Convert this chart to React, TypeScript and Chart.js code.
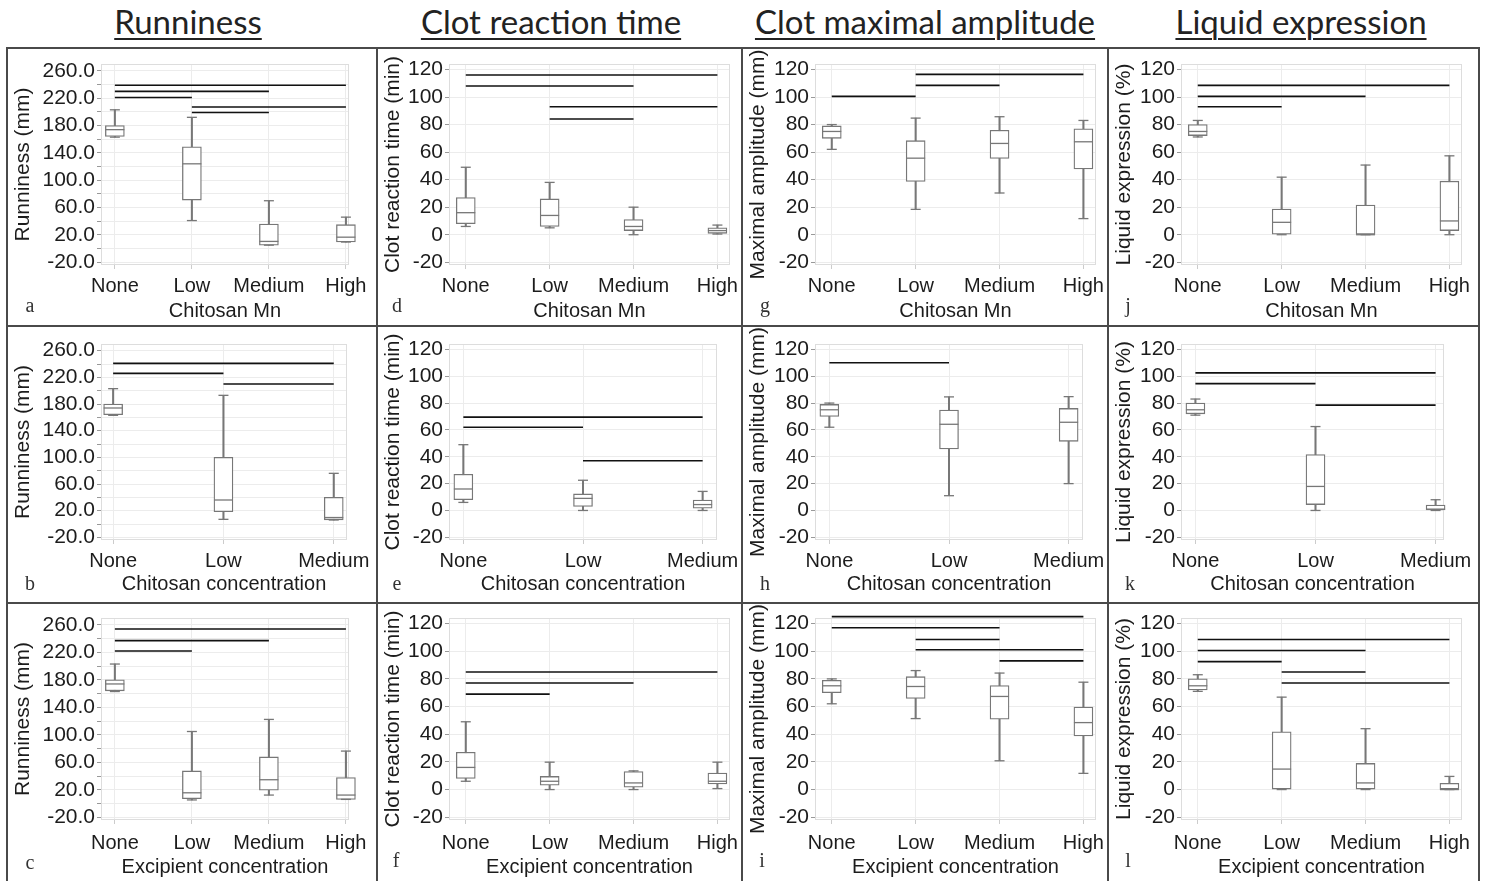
import React, { useEffect, useRef } from 'react';
import { Chart, registerables } from 'chart.js';
Chart.register(...registerables);

// ---------- categories ----------
const catMn = ['None', 'Low', 'Medium', 'High'];
const catConc = ['None', 'Low', 'Medium'];
const catExc = ['None', 'Low', 'Medium', 'High'];

// ---------- y ticks ----------
const runGrid = [-20, 0, 20, 40, 60, 80, 100, 120, 140, 160, 180, 200, 220, 240, 260];
const runLabels = [-20, 20, 60, 100, 140, 180, 220, 260];
const pctGrid = [-20, 0, 20, 40, 60, 80, 100, 120];
const pctLabels = [-20, 0, 20, 40, 60, 80, 100, 120];

// ---------- box stats: [min, q1, median, q3, max] ----------
const runNone = [163, 164, 174, 180, 203];
const crtNone = [6, 8, 16, 27, 49];
const ampNone = [62, 70, 75, 79, 80];
const liqNone = [71, 72, 75, 80, 83];

const runMn = [runNone, [41, 71, 124, 149, 192], [5, 5, 10.5, 36, 70], [9.6, 9.6, 16.7, 35, 46]];
const runConc = [runNone, [7, 18.6, 36, 100, 193], [6, 6.3, 9.7, 40, 76]];
const runExc = [runNone, [5.2, 7, 15.6, 47.4, 104.8], [12.3, 19.4, 34.6, 67.8, 122.4], [6, 6, 12.3, 37.9, 76.3]];

const crtMn = [crtNone, [5, 6, 14, 26, 38], [0, 3, 6, 11, 20], [0.5, 1, 3, 5, 7]];
const crtConc = [crtNone, [0, 3, 9, 12.3, 22.5], [0, 1.7, 4.4, 7.8, 14.2]];
const crtExc = [crtNone, [0, 3.1, 6, 9.5, 19.8], [0, 1.7, 4.8, 13, 13.5], [0.7, 4, 6, 12, 19.8]];

const ampMn = [ampNone, [18.4, 38.7, 55.6, 68.3, 84.7], [30.3, 55.4, 66.3, 75.9, 85.7], [11.7, 47.7, 67.5, 77, 83]];
const ampConc = [ampNone, [11, 45.8, 64.2, 74.8, 84.6], [20, 51.5, 65.7, 76, 84.8]];
const ampExc = [ampNone, [51.3, 65.9, 74.5, 81.6, 86], [20.8, 50.8, 67.3, 75.2, 84.2], [11.7, 38.7, 48.4, 59.7, 77.6]];

const liqMn = [liqNone, [0, 0, 9, 18.6, 41.8], [0, 0, 0, 21.5, 50.6], [0, 3, 10, 38.9, 57.3]];
const liqConc = [liqNone, [0, 4.4, 17.9, 41.7, 62.5], [0, 0, 1, 4, 8]];
const liqExc = [liqNone, [0, 0, 14.8, 41.8, 66.8], [0, 0, 4.8, 18.9, 44], [0, 0, 0, 4.5, 9.5]];

// ---------- significance bars: [fromCategory, toCategory, yValue] ----------
const runMnSig = [[0, 3, 239], [0, 2, 230], [0, 1, 221], [1, 3, 207], [1, 2, 199]];
const runConcSig = [[0, 2, 241], [0, 1, 226], [1, 2, 210]];
const runExcSig = [[0, 3, 254], [0, 2, 237], [0, 1, 222]];
const crtMnSig = [[0, 3, 116], [0, 2, 108], [1, 3, 93], [1, 2, 84]];
const crtConcSig = [[0, 2, 69.5], [0, 1, 62], [1, 2, 37]];
const crtExcSig = [[0, 3, 85], [0, 2, 77], [0, 1, 69]];
const ampMnSig = [[0, 1, 100.5], [1, 3, 116.5], [1, 2, 108.5]];
const ampConcSig = [[0, 1, 110]];
const ampExcSig = [[0, 3, 125], [0, 2, 117], [1, 2, 108.5], [1, 3, 101], [2, 3, 93]];
const liqMnSig = [[0, 3, 108.5], [0, 2, 100.5], [0, 1, 93]];
const liqConcSig = [[0, 2, 102.5], [0, 1, 94.5], [1, 2, 78.5]];
const liqExcSig = [[0, 3, 108.5], [0, 2, 100.5], [0, 1, 92.5], [1, 2, 85], [1, 3, 77]];

const colTitles = ['Runniness', 'Clot reaction time', 'Clot maximal amplitude', 'Liquid expression'];
const yTitles = ['Runniness (mm)', 'Clot reaction time (min)', 'Maximal amplitude (mm)', 'Liquid expression (%)'];
const xTitles = ['Chitosan Mn', 'Chitosan concentration', 'Excipient concentration'];
const letters = [['a', 'd', 'g', 'j'], ['b', 'e', 'h', 'k'], ['c', 'f', 'i', 'l']];

const panelData = [
  [
    { cats: catMn, boxes: runMn, sig: runMnSig },
    { cats: catMn, boxes: crtMn, sig: crtMnSig },
    { cats: catMn, boxes: ampMn, sig: ampMnSig },
    { cats: catMn, boxes: liqMn, sig: liqMnSig },
  ],
  [
    { cats: catConc, boxes: runConc, sig: runConcSig },
    { cats: catConc, boxes: crtConc, sig: crtConcSig },
    { cats: catConc, boxes: ampConc, sig: ampConcSig },
    { cats: catConc, boxes: liqConc, sig: liqConcSig },
  ],
  [
    { cats: catExc, boxes: runExc, sig: runExcSig },
    { cats: catExc, boxes: crtExc, sig: crtExcSig },
    { cats: catExc, boxes: ampExc, sig: ampExcSig },
    { cats: catExc, boxes: liqExc, sig: liqExcSig },
  ],
];

// ---------- layout ----------
const colX = [7, 377, 742, 1108, 1479];
const rowY = [48, 326, 603, 881];
const chartLeft = [93, 71, 72, 72];
const padRight4 = [27, 11, 11, 16];
const padRight3 = [29, 24, 24, 34];
const xRange4 = [[-0.18, 3.04], [-0.2, 3.15], [-0.2, 3.15], [-0.2, 3.15]];
const xRange3 = [[-0.11, 2.12], [-0.12, 2.12], [-0.12, 2.12], [-0.12, 2.07]];
const rowGeom = [
  { top: 15, xH: 58, padB: 2, tickPad: 5 },
  { top: 17, xH: 56, padB: 6, tickPad: 5 },
  { top: 14, xH: 59, padB: 1, tickPad: 7 },
];

const FONT = '"Liberation Sans", Arial, Helvetica, sans-serif';
const TXT = '#1c1c1c';
const GRAY = '#777777';

const framePlugin = {
  id: 'frame',
  beforeDatasetsDraw(chart: any) {
    const { ctx, chartArea } = chart;
    const { left, top, right, bottom } = chartArea;
    ctx.save();
    ctx.strokeStyle = '#dddddd';
    ctx.lineWidth = 1;
    ctx.strokeRect(Math.round(left) + 0.5, Math.round(top) + 0.5, Math.round(right - left) - 1, Math.round(bottom - top) - 1);
    ctx.restore();
  },
};

function buildConfig(row: number, col: number) {
  const pd = panelData[row][col];
  const isRun = col === 0;
  const four = pd.cats.length === 4;
  const [xmin, xmax] = four ? xRange4[col] : xRange3[col];
  const rg = rowGeom[row];
  const grid = isRun ? runGrid : pctGrid;
  const labels = isRun ? runLabels : pctLabels;
  const boxes = pd.boxes;

  const datasets: any[] = [];
  datasets.push({
    type: 'bar',
    data: boxes.map((b, i) => ({ x: i, y: [b[0], b[4]] })),
    backgroundColor: GRAY,
    borderWidth: 0,
    barThickness: 1.4,
    grouped: false,
    clip: false,
    order: 4,
  });
  datasets.push({
    type: 'bar',
    data: boxes.map((b, i) => ({ x: i, y: [b[1], b[3]] })),
    backgroundColor: '#ffffff',
    borderColor: GRAY,
    borderWidth: 1.3,
    borderSkipped: false,
    barThickness: 19,
    grouped: false,
    clip: false,
    order: 3,
  });
  datasets.push({
    type: 'line',
    data: boxes.map((b, i) => ({ x: i, y: b[2] })),
    showLine: false,
    pointStyle: 'line',
    pointRadius: 9.5,
    pointBorderColor: GRAY,
    pointBorderWidth: 1.3,
    clip: false,
    order: 2,
  });
  datasets.push({
    type: 'line',
    data: boxes.flatMap((b, i) => [{ x: i, y: b[0] }, { x: i, y: b[4] }]),
    showLine: false,
    pointStyle: 'line',
    pointRadius: 5,
    pointBorderColor: GRAY,
    pointBorderWidth: 1.3,
    clip: false,
    order: 2,
  });
  pd.sig.forEach(([a, b, v]) => {
    datasets.push({
      type: 'line',
      data: [{ x: a, y: v }, { x: b, y: v }],
      borderColor: '#111111',
      borderWidth: 1.6,
      pointRadius: 0,
      clip: false,
      order: 1,
    });
  });

  return {
    type: 'bar',
    data: { datasets },
    plugins: [framePlugin],
    options: {
      animation: false,
      responsive: false,
      events: [],
      layout: {
        padding: { left: 0, right: four ? padRight4[col] : padRight3[col], top: rg.top, bottom: rg.padB },
      },
      plugins: { legend: { display: false }, tooltip: { enabled: false } },
      scales: {
        x: {
          type: 'linear',
          min: xmin,
          max: xmax,
          offset: false,
          grid: { offset: false, color: '#ececec', drawTicks: true, tickLength: 4, tickColor: '#cccccc' },
          border: { display: false },
          afterBuildTicks: (s: any) => {
            s.ticks = pd.cats.map((_, i) => ({ value: i }));
          },
          ticks: {
            autoSkip: false,
            maxRotation: 0,
            minRotation: 0,
            padding: rg.tickPad,
            color: TXT,
            font: { family: FONT, size: 20 },
            callback: (v: any) => pd.cats[Math.round(v)] ?? '',
          },
          title: { display: true, text: xTitles[row], color: TXT, font: { family: FONT, size: 20 }, padding: 0 },
          afterFit: (s: any) => {
            s.height = rg.xH;
            s.paddingLeft = 0;
            s.paddingRight = 0;
          },
        },
        y: {
          type: 'linear',
          min: isRun ? -24 : -22,
          max: isRun ? 270 : 124,
          grid: { color: '#ececec', drawTicks: true, tickLength: 4, tickColor: '#999999' },
          border: { display: false },
          afterBuildTicks: (s: any) => {
            s.ticks = grid.map((v) => ({ value: v }));
          },
          ticks: {
            autoSkip: false,
            padding: 2,
            color: TXT,
            font: { family: FONT, size: 21 },
            callback: (v: any) => (labels.includes(v) ? (isRun ? Number(v).toFixed(1) : String(v)) : ''),
          },
          title: { display: true, text: yTitles[col], color: TXT, font: { family: FONT, size: 21 }, padding: { top: 3, bottom: 0 } },
          afterFit: (s: any) => {
            s.width = chartLeft[col];
            s.paddingTop = 0;
            s.paddingBottom = 0;
          },
        },
      },
    },
  };
}

function Panel({ row, col }: { row: number; col: number }) {
  const ref = useRef<HTMLCanvasElement>(null);
  const x = colX[col] + 1;
  const y = rowY[row] + 1;
  const w = colX[col + 1] - colX[col] - 2;
  const h = rowY[row + 1] - rowY[row] - 2;
  useEffect(() => {
    const chart = new Chart(ref.current as HTMLCanvasElement, buildConfig(row, col) as any);
    return () => chart.destroy();
  }, [row, col]);
  return (
    <canvas
      ref={ref}
      width={w}
      height={h}
      style={{ position: 'absolute', left: x, top: y, width: w, height: h }}
    />
  );
}

const titleCenters = [188, 551, 925, 1301];
const letterPos = [
  [[30, 305], [397, 305], [765, 305], [1128, 305]],
  [[30, 583], [397, 583], [765, 583], [1130, 583]],
  [[30, 862], [396, 860], [762, 860], [1128, 860]],
];

export default function App() {
  const lines: React.ReactNode[] = [];
  colX.forEach((cx, i) =>
    lines.push(
      <div key={'v' + i} style={{ position: 'absolute', left: cx - 1, top: rowY[0] - 1, width: 2, height: 881 - rowY[0] + 1, background: '#4a4a4a' }} />
    )
  );
  rowY.slice(0, 3).forEach((ry, i) =>
    lines.push(
      <div key={'h' + i} style={{ position: 'absolute', left: colX[0] - 1, top: ry - 1, width: colX[4] - colX[0] + 2, height: 2, background: '#4a4a4a' }} />
    )
  );
  return (
    <div style={{ position: 'absolute', left: 0, top: 0, width: 1487, height: 881, overflow: 'hidden', background: '#ffffff' }}>
      {colTitles.map((t, i) => (
        <div
          key={t}
          style={{
            position: 'absolute',
            left: titleCenters[i] - 220,
            width: 440,
            top: 3,
            textAlign: 'center',
            fontFamily: 'Lato, "Open Sans", sans-serif',
            fontSize: 33,
            lineHeight: '36px',
            color: '#222',
            textDecoration: 'underline',
            textDecorationThickness: '2px',
            textUnderlineOffset: '4px',
          }}
        >
          {t}
        </div>
      ))}
      {[0, 1, 2].map((r) => [0, 1, 2, 3].map((c) => <Panel key={r + '-' + c} row={r} col={c} />))}
      {lines}
      {letters.map((rowL, r) =>
        rowL.map((l, c) => (
          <div
            key={l}
            style={{
              position: 'absolute',
              left: letterPos[r][c][0] - 10,
              top: letterPos[r][c][1] - 12,
              width: 20,
              height: 24,
              lineHeight: '24px',
              textAlign: 'center',
              fontFamily: '"Liberation Serif", "DejaVu Serif", serif',
              fontSize: 20,
              color: '#333',
            }}
          >
            {l}
          </div>
        ))
      )}
    </div>
  );
}
